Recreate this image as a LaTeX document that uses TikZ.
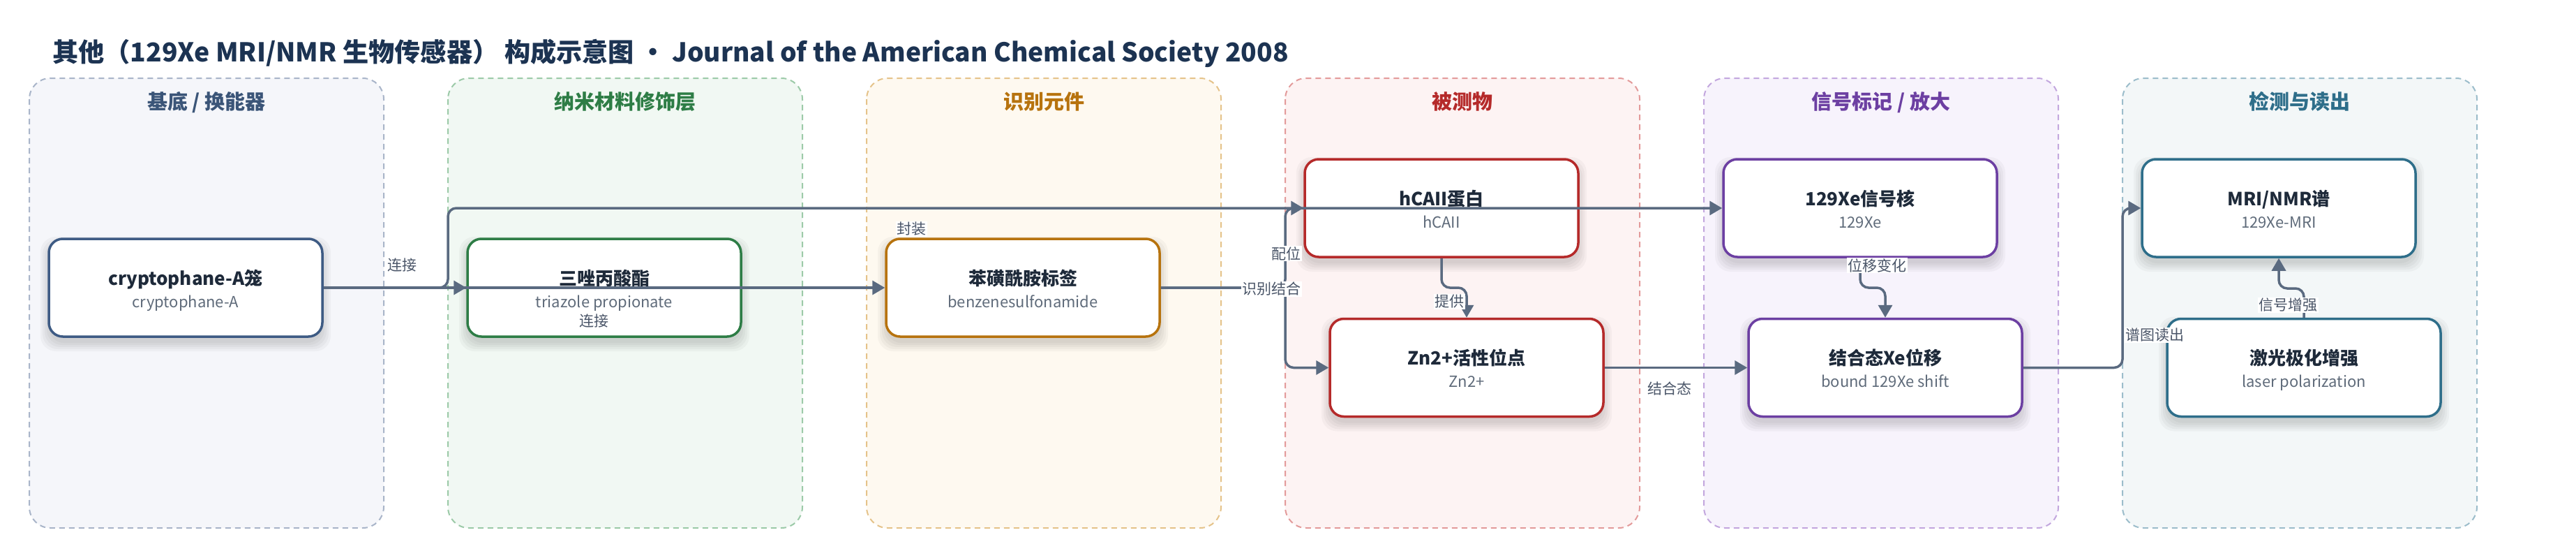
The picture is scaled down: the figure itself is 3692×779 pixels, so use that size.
\documentclass[tikz,border=0pt]{standalone}
\usepackage{fontspec}
\setmainfont{Noto Sans CJK SC}
\usetikzlibrary{arrows.meta}
\definecolor{laneAf}{HTML}{F5F6FA}\definecolor{laneAd}{HTML}{A9B5C9}\definecolor{laneAt}{HTML}{3B5578}
\definecolor{laneBf}{HTML}{F1F8F3}\definecolor{laneBd}{HTML}{9CCAA8}\definecolor{laneBt}{HTML}{2E7D46}
\definecolor{laneCf}{HTML}{FEF9F0}\definecolor{laneCd}{HTML}{E5C38A}\definecolor{laneCt}{HTML}{B7730E}
\definecolor{laneDf}{HTML}{FDF3F3}\definecolor{laneDd}{HTML}{E39B9B}\definecolor{laneDt}{HTML}{B52A2A}
\definecolor{laneEf}{HTML}{F7F3FC}\definecolor{laneEd}{HTML}{C3A7DE}\definecolor{laneEt}{HTML}{6C3FA2}
\definecolor{laneFf}{HTML}{F3F7F8}\definecolor{laneFd}{HTML}{9CBDCB}\definecolor{laneFt}{HTML}{2E6E8A}
\definecolor{nodeA}{HTML}{3E5B84}
\definecolor{edgec}{HTML}{5A6A80}
\definecolor{titlec}{HTML}{1C3352}
\definecolor{ntitlec}{HTML}{1E2A3A}
\definecolor{nsubc}{HTML}{5F6B7A}
\definecolor{labc}{HTML}{4A5568}
\tikzset{
  lanebox/.style={line width=2pt, dash pattern=on 8pt off 6pt, rounded corners=30pt},
  lanetitle/.style={font=\fontsize{29pt}{34pt}\selectfont\bfseries, inner sep=0pt},
  nodebox/.style={rectangle, rounded corners=20pt, minimum width=392pt, minimum height=140pt, fill=white, line width=3.5pt, inner sep=0pt},
  ntitle/.style={font=\fontsize{26pt}{30pt}\selectfont\bfseries, text=ntitlec, inner sep=0pt},
  nsub/.style={font=\fontsize{22pt}{26pt}\selectfont, text=nsubc, inner sep=0pt},
  conn/.style={draw=edgec, line width=3.5pt, rounded corners=12pt, -{Triangle[length=18pt,width=20pt]}},
  elabel/.style={fill=white, inner sep=1.5pt, text=labc, font=\fontsize{21pt}{24pt}\selectfont},
}
\newcommand{\mylane}[6]{%
  \filldraw[lanebox, fill=#3, draw=#4] (#2,112) rectangle ++(508,644);
  \node[lanetitle, text=#5, anchor=base] (#1) at (#2+254,156) {#6};
}
\newcommand{\mybox}[6]{%
  \begin{scope}[shift={(#2,#3)}]
    \foreach \e in {12,9,6,3,0} \fill[black,opacity=0.032,rounded corners=22pt] (-196-\e,-70-\e+9) rectangle (196+\e,70+\e+9);
  \end{scope}
  \node[nodebox, draw=#4] (#1) at (#2,#3) {};
  \node[ntitle, anchor=base] (#1t) at (#2,#3-4) {#5};
  \node[nsub, anchor=base] (#1s) at (#2,#3+28) {#6};
}
\begin{document}
\begin{tikzpicture}[x=1pt,y=-1pt]
\useasboundingbox (0,0) rectangle (3692,779);
\fill[white] (0,0) rectangle (3692,779);
\node[anchor=base west, inner sep=0pt, text=titlec, font=\fontsize{37.2pt}{42pt}\selectfont\bfseries] (title) at (75,88) {其他（129Xe MRI/NMR 生物传感器） 构成示意图 · Journal of the American Chemical Society 2008};
\mylane{L1}{42}{laneAf}{laneAd}{laneAt}{基底 / 换能器}
\mylane{L2}{642}{laneBf}{laneBd}{laneBt}{纳米材料修饰层}
\mylane{L3}{1242}{laneCf}{laneCd}{laneCt}{识别元件}
\mylane{L4}{1842}{laneDf}{laneDd}{laneDt}{被测物}
\mylane{L5}{2442}{laneEf}{laneEd}{laneEt}{信号标记 / 放大}
\mylane{L6}{3042}{laneFf}{laneFd}{laneFt}{检测与读出}
\mybox{n1}{266}{412}{nodeA}{cryptophane-A笼}{cryptophane-A}
\mybox{n2}{866}{412}{laneBt}{三唑丙酸酯}{triazole propionate}
\mybox{n3}{1466}{412}{laneCt}{苯磺酰胺标签}{benzenesulfonamide}
\mybox{n4}{2066}{298}{laneDt}{hCAII蛋白}{hCAII}
\mybox{n5}{2102}{526.5}{laneDt}{Zn2+活性位点}{Zn2+}
\mybox{n6}{2666}{298}{laneEt}{129Xe信号核}{129Xe}
\mybox{n7}{2702}{526.5}{laneEt}{结合态Xe位移}{bound 129Xe shift}
\mybox{n8}{3266}{298}{laneFt}{MRI/NMR谱}{129Xe-MRI}
\mybox{n9}{3302}{526.5}{laneFt}{激光极化增强}{laser polarization}
% connectors
\draw[conn] (n1.east) -- (n2.west);
\draw[conn] (n1.east) -- (n3.west);
\draw[conn] (n1.east) -- (642,412) -- (642,298) -- (n6.west);
\draw[conn] (n3.east) -- (1842,412) -- (1842,298) -- (n4.west);
\draw[conn] (n3.east) -- (1842,412) -- (1842,526.5) -- (n5.west);
\draw[conn] (n4.south) -- (n4.south |- 0,412) -- (n5.north |- 0,412) -- (n5.north);
\draw[conn] (n5.east) -- (n7.west);
\draw[conn] (n6.south) -- (n6.south |- 0,412) -- (n7.north |- 0,412) -- (n7.north);
\draw[conn] (n7.east) -- (3042,526.5) -- (3042,298) -- (n8.west);
\draw[conn] (n9.north) -- (n9.north |- 0,413) -- (n8.south |- 0,413) -- (n8.south);
% labels
\node[elabel] (l1) at (576,380) {连接};
\node[elabel] (l2) at (851,460) {连接};
\node[elabel] (l3) at (1306,328) {封装};
\node[elabel] (l4) at (1843,363) {配位};
\node[elabel] (l5) at (1822,414) {识别结合};
\node[elabel] (l6) at (2077,432) {提供};
\node[elabel] (l7) at (2393,556) {结合态};
\node[elabel] (l8) at (2690,380) {位移变化};
\node[elabel] (l9) at (3088,480) {谱图读出};
\node[elabel] (l10) at (3279,437) {信号增强};
\end{tikzpicture}
\end{document}
